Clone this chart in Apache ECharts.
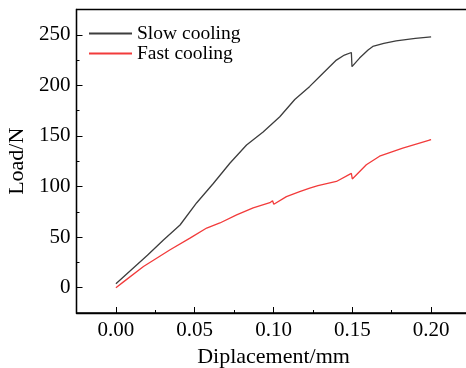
<!DOCTYPE html>
<html>
<head>
<meta charset="utf-8">
<script src="https://cdn.jsdelivr.net/npm/echarts@6/dist/echarts.min.js"></script>
<style>
  html, body { margin: 0; padding: 0; background: #fff; }
  #chart { width: 466px; height: 368px; }
</style>
</head>
<body>
<div id="chart"></div>
<script type="text/javascript">
// displacement (mm) / load (N)
var slowX = [0, 0.01, 0.02, 0.03, 0.0407, 0.0513, 0.0618, 0.0723, 0.0829, 0.0934, 0.104, 0.1135, 0.123, 0.1314, 0.1399, 0.145, 0.1494, 0.1498, 0.1546, 0.16, 0.163, 0.17, 0.1778, 0.19, 0.2];
var slowY = [4, 18, 32, 47, 62, 84, 103, 123, 141, 154, 169, 186, 199, 212, 225, 230, 232.5, 218.5, 227, 235, 238.5, 241.5, 244, 246.5, 248];
var fastX = [0, 0.005, 0.0175, 0.0344, 0.047, 0.0576, 0.066, 0.0766, 0.0871, 0.0977, 0.0994, 0.1002, 0.1082, 0.1166, 0.123, 0.1282, 0.1399, 0.1494, 0.15, 0.1589, 0.1673, 0.182, 0.199, 0.2];
var fastY = [0, 6, 21, 37.5, 49, 59, 64, 72, 79, 84, 86, 82.5, 90, 95, 98.5, 101, 105, 113, 107.5, 121.5, 130, 138, 146, 146.3];
var xTicks = [0, 0.05, 0.1, 0.15, 0.2];
var yTicks = [0, 50, 100, 150, 200, 250];

function pairs(xs, ys) {
    var out = [];
    for (var i = 0; i < xs.length; i++) out.push([xs[i], ys[i]]);
    return out;
}

var font = 'Liberation Serif';
var myChart = echarts.init(document.getElementById('chart'));
var option = {
    animation: false,
    grid: {
        left: 76.5, right: -4.5, top: 9.5, bottom: 55,
        outerBoundsMode: 'none', containLabel: false,
        show: true, borderColor: '#000', borderWidth: 1.3, backgroundColor: 'transparent'
    },
    legend: {
        left: 83, top: 18.5, orient: 'vertical',
        itemWidth: 43, itemHeight: 21, itemGap: 0,
        itemStyle: { opacity: 0 },
        textStyle: { fontFamily: font, fontSize: 19.5, color: '#000' },
        data: ['Slow cooling', 'Fast cooling']
    },
    xAxis: [{
        type: 'value', min: -0.025, max: 0.225,
        name: 'Diplacement/mm', nameLocation: 'middle', nameGap: 29,
        nameTextStyle: { fontFamily: font, fontSize: 22, color: '#000' },
        axisLine: { onZero: false, lineStyle: { color: '#000', width: 1.3 } },
        axisTick: { inside: true, length: 6, customValues: xTicks, lineStyle: { color: '#000' } },
        axisLabel: { customValues: xTicks, margin: 7, fontFamily: font, fontSize: 21, color: '#000',
            formatter: function (v) { return v.toFixed(2); } },
        splitLine: { show: false }
    }, {
        type: 'value', min: -0.025, max: 0.225, interval: 0.025, position: 'bottom',
        axisLine: { show: false, onZero: false },
        axisTick: { inside: true, length: 3, lineStyle: { color: '#000' } },
        axisLabel: { show: false },
        splitLine: { show: false }
    }],
    yAxis: [{
        type: 'value', min: -25, max: 275,
        name: 'Load/N', nameLocation: 'middle', nameGap: 47,
        nameTextStyle: { fontFamily: font, fontSize: 22, color: '#000' },
        axisLine: { show: true, onZero: false, lineStyle: { color: '#000', width: 1.3 } },
        axisTick: { show: true, inside: true, length: 6, customValues: yTicks, lineStyle: { color: '#000' } },
        axisLabel: { customValues: yTicks, margin: 6, fontFamily: font, fontSize: 21, color: '#000' },
        splitLine: { show: false }
    }, {
        type: 'value', min: -25, max: 275, interval: 25, position: 'left',
        axisLine: { show: false, onZero: false },
        axisTick: { show: true, inside: true, length: 3, lineStyle: { color: '#000' } },
        axisLabel: { show: false },
        splitLine: { show: false }
    }],
    series: [{
        name: 'Slow cooling', type: 'line', symbol: 'none',
        xAxisIndex: 0, yAxisIndex: 0,
        lineStyle: { color: '#3d3d3d', width: 1.3 }, itemStyle: { color: '#3d3d3d' },
        data: pairs(slowX, slowY)
    }, {
        name: 'Fast cooling', type: 'line', symbol: 'none',
        xAxisIndex: 0, yAxisIndex: 0,
        lineStyle: { color: '#f23b3b', width: 1.3 }, itemStyle: { color: '#f23b3b' },
        data: pairs(fastX, fastY)
    }]
};
myChart.setOption(option);
</script>
</body>
</html>
